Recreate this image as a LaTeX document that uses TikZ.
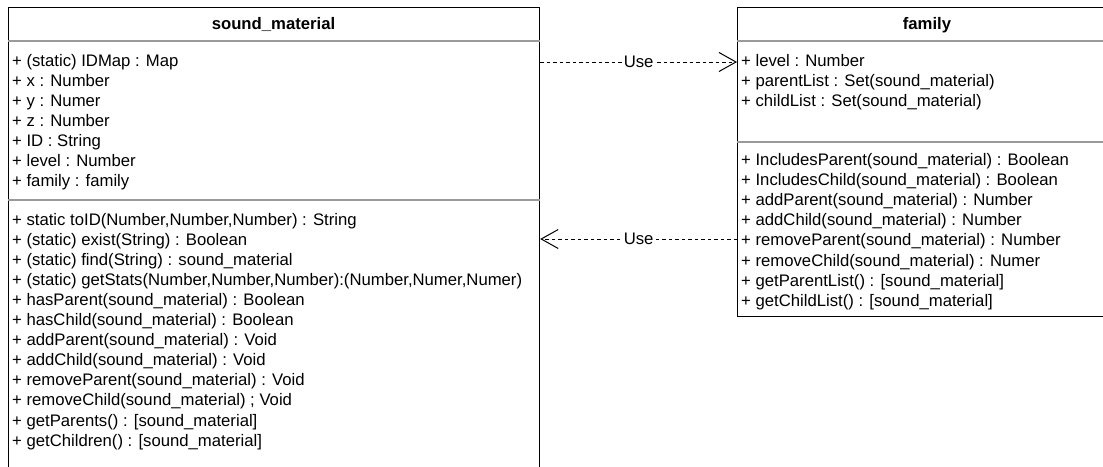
\documentclass[tikz,border=0pt]{standalone}
\usepackage{fontspec}
\setmainfont{Liberation Sans}
\usetikzlibrary{arrows.meta}
\definecolor{sepgray}{HTML}{9A9A9A}
\begin{document}
\begin{tikzpicture}[x=1pt,y=-1pt,
  classbox/.style={draw=black, line width=1.2pt, fill=white, inner sep=0pt, anchor=north west},
  sepline/.style={draw=sepgray, line width=1.6pt},
  txt/.style={anchor=base west, inner sep=0pt, font=\fontsize{16.7}{19}\selectfont},
  hdr/.style={anchor=base, inner sep=0pt, font=\fontsize{16.7}{19}\selectfont\bfseries},
  usearrow/.style={draw=black, line width=0.9pt, dash pattern=on 3.5pt off 3pt, -{Straight Barb[length=17pt,width=19pt,line width=1pt]}},
  uselabel/.style={fill=white, inner sep=0.5pt, font=\fontsize{16.7}{19}\selectfont}
]
\useasboundingbox (0,0) rectangle (1103,466);
\clip (0,0) rectangle (1103,466);
% classes
\node[classbox, minimum width=531pt, minimum height=600pt] (sm) at (8,7) {};
\node[classbox, minimum width=380pt, minimum height=309pt] (fam) at (737,7) {};
% separators
\draw[sepline] (sm.west |- 0,41) -- (sm.east |- 0,41);
\draw[sepline] (sm.west |- 0,200) -- (sm.east |- 0,200);
\draw[sepline] (fam.west |- 0,41) -- (fam.east |- 0,41);
\draw[sepline] (fam.west |- 0,142) -- (fam.east |- 0,142);
% headers
\node[hdr] (smh) at (273.5,29.5) {sound\_material};
\node[hdr] (famh) at (927,29.5) {family};
% sound_material attributes
\foreach \t [count=\i from 0] in {
  {+ (static) IDMap : Map},
  {+ x : Number},
  {+ y : Numer},
  {+ z : Number},
  {+ ID : String},
  {+ level : Number},
  {+ family : family}}
  \node[txt, name=smA\i] at (12,{66.5+20*\i}) {\t};
% sound_material methods
\foreach \t [count=\i from 0] in {
  {+ static toID(Number,Number,Number) : String},
  {+ (static) exist(String) : Boolean},
  {+ (static) find(String) : sound\_material},
  {+ (static) getStats(Number,Number,Number):(Number,Numer,Numer)},
  {+ hasParent(sound\_material) : Boolean},
  {+ hasChild(sound\_material) : Boolean},
  {+ addParent(sound\_material) : Void},
  {+ addChild(sound\_material) : Void},
  {+ removeParent(sound\_material) : Void},
  {+ removeChild(sound\_material) ; Void},
  {+ getParents() : [sound\_material]},
  {+ getChildren() : [sound\_material]}}
  \node[txt, name=smM\i] at (12,{225+20.1*\i}) {\t};
% family attributes
\foreach \t [count=\i from 0] in {
  {+ level : Number},
  {+ parentList : Set(sound\_material)},
  {+ childList : Set(sound\_material)}}
  \node[txt, name=famA\i] at (741,{66.5+20*\i}) {\t};
% family methods
\foreach \t [count=\i from 0] in {
  {+ IncludesParent(sound\_material) : Boolean},
  {+ IncludesChild(sound\_material) : Boolean},
  {+ addParent(sound\_material) : Number},
  {+ addChild(sound\_material) : Number},
  {+ removeParent(sound\_material) : Number},
  {+ removeChild(sound\_material) : Numer},
  {+ getParentList() : [sound\_material]},
  {+ getChildList() : [sound\_material]}}
  \node[txt, name=famM\i] at (741,{165+20.2*\i}) {\t};
% connectors
\draw[usearrow] (sm.east |- 0,62) -- node[uselabel] (u1) {Use} (fam.west |- 0,62);
\draw[usearrow] (fam.west |- 0,239) -- node[uselabel] (u2) {Use} (sm.east |- 0,239);
\end{tikzpicture}
\end{document}
